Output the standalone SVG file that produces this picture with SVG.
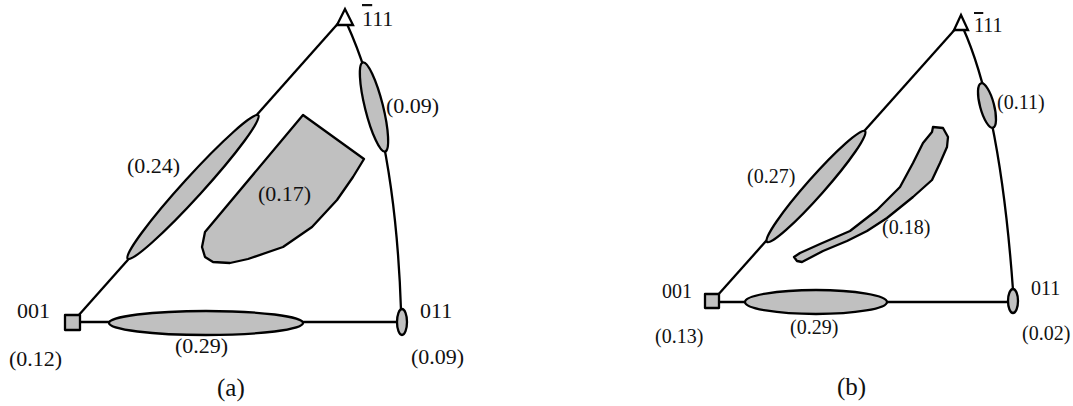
<svg xmlns="http://www.w3.org/2000/svg" width="1073" height="406" viewBox="0 0 1073 406">
<style>
.ln{fill:none;stroke:#000;stroke-width:2.3}
.rg{fill:#c0c0c0;stroke:#000;stroke-width:2.3;stroke-linejoin:round}
.pt{fill:#fff;stroke:#000;stroke-width:2.3}
.ta{font-family:"Liberation Serif","Times New Roman",serif;font-size:22px;fill:#111}
.tb{font-family:"Liberation Serif","Times New Roman",serif;font-size:20px;fill:#111}
.cap{font-family:"Liberation Serif","Times New Roman",serif;font-size:25px;fill:#111}
</style>
<rect width="1073" height="406" fill="#fff"/>
<g id="connectors">
<line class="ln" x1="78" y1="316" x2="342" y2="19"/>
<path class="ln" d="M347,24 Q395,130 401,310"/>
<line class="ln" x1="80" y1="322" x2="398" y2="322"/>
<line class="ln" x1="717" y1="296" x2="958" y2="26"/>
<path class="ln" d="M963,28 Q1000,110 1013,290"/>
<line class="ln" x1="719" y1="302" x2="1009" y2="302"/>
</g>
<g id="panel-a">
<g id="a-001"><rect class="rg" x="65" y="315" width="15" height="15"/><text class="ta" x="17" y="318">001</text><text class="ta" x="9" y="366">(0.12)</text></g>
<g id="a-111"><polygon class="pt" points="345,9 337,25 353,25"/><text class="ta" x="362" y="26"><tspan text-decoration="overline">1</tspan>11</text></g>
<g id="a-011"><ellipse class="rg" cx="402" cy="322" rx="5" ry="13"/><text class="ta" x="420" y="318">011</text><text class="ta" x="411" y="364">(0.09)</text></g>
<g id="a-r024"><ellipse class="rg" cx="193" cy="187" rx="97" ry="10" transform="rotate(-47.7 193 187)"/><text class="ta" x="127" y="173">(0.24)</text></g>
<g id="a-r009"><ellipse class="rg" cx="374" cy="107" rx="46" ry="9" transform="rotate(76 374 107)"/><text class="ta" x="386" y="113">(0.09)</text></g>
<g id="a-r029"><ellipse class="rg" cx="206" cy="323" rx="97" ry="12"/><text class="ta" x="175" y="353">(0.29)</text></g>
<g id="a-r017"><path class="rg" d="M303,115 L364,159 L353,177 L337,200 L312,227 L283,247 L248,259 L230,263 L213,262 L205,257 L202,247 L205,232 Z"/><text class="ta" x="258" y="201">(0.17)</text></g>
<text class="cap" x="217" y="396">(a)</text>
</g>
<g id="panel-b">
<g id="b-001"><rect class="rg" x="705" y="294" width="14" height="14"/><text class="tb" x="662" y="298">001</text><text class="tb" x="655" y="343">(0.13)</text></g>
<g id="b-111"><polygon class="pt" points="961,15 954,30 968,30"/><text class="tb" x="974" y="32"><tspan text-decoration="overline">1</tspan>11</text></g>
<g id="b-011"><ellipse class="rg" cx="1013" cy="301" rx="5" ry="12"/><text class="tb" x="1031" y="295">011</text><text class="tb" x="1022" y="340">(0.02)</text></g>
<g id="b-r027"><ellipse class="rg" cx="816" cy="186.5" rx="74" ry="9" transform="rotate(-48.5 816 186.5)"/><text class="tb" x="747" y="183">(0.27)</text></g>
<g id="b-r011"><ellipse class="rg" cx="987" cy="105.5" rx="23" ry="7" transform="rotate(75 987 105.5)"/><text class="tb" x="997" y="109">(0.11)</text></g>
<g id="b-r029"><ellipse class="rg" cx="816" cy="302" rx="71" ry="12"/><text class="tb" x="790" y="334">(0.29)</text></g>
<g id="b-r018"><path class="rg" d="M933,127 L943,128 L948,137 L947,147 L940,163 L932,180 L913,197 L887,218 L867,231 L847,241 L823,251 L802,262 L797,261 L794,257 L800,253 L820,244 L850,231 L877,210 L900,187 L913,163 L923,143 L932,132 Z"/><text class="tb" x="882" y="234">(0.18)</text></g>
<text class="cap" x="837" y="395">(b)</text>
</g>
</svg>
